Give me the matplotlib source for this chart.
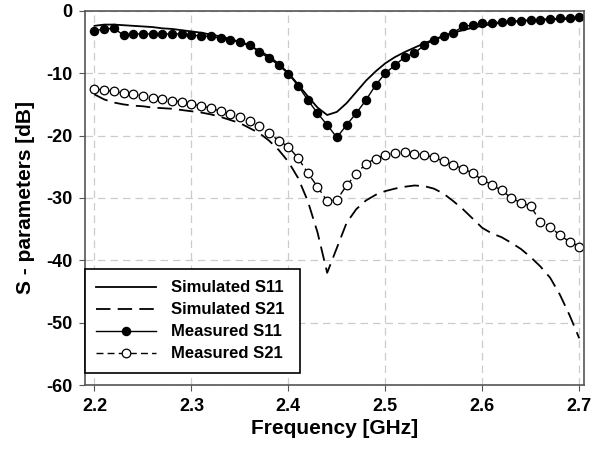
import matplotlib.pyplot as plt
import numpy as np

plt.rcParams['font.family'] = ['Liberation Sans', 'DejaVu Sans']
plt.rcParams['font.weight'] = 'bold'
plt.rcParams['axes.unicode_minus'] = False

# frequency points (GHz)
freq = np.round(np.arange(2.20, 2.7001, 0.01), 2)

sim_s11 = [-2.4, -2.2, -2.2, -2.3, -2.4, -2.5, -2.6, -2.8, -2.9, -3.1,
           -3.3, -3.5, -3.8, -4.1, -4.5, -5.0, -5.6, -6.4, -7.3, -8.5,
           -10.0, -11.8, -13.7, -15.5, -16.7, -16.2, -14.8, -13.0, -11.2, -9.7,
           -8.4, -7.4, -6.6, -5.9, -5.2, -4.6, -4.0, -3.5, -3.1, -2.7,
           -2.4, -2.1, -1.9, -1.8, -1.6, -1.5, -1.4, -1.4, -1.3, -1.3, -1.2]

sim_s21 = [-13.4, -14.2, -14.7, -15.0, -15.2, -15.3, -15.5, -15.6, -15.7, -15.9,
           -16.1, -16.3, -16.6, -17.0, -17.5, -18.0, -18.8, -19.6, -20.8, -22.3,
           -24.2, -26.8, -30.5, -35.5, -42.0, -38.0, -34.0, -31.8, -30.4, -29.5,
           -28.9, -28.5, -28.2, -28.0, -28.1, -28.5, -29.3, -30.5, -31.8, -33.3,
           -34.8, -35.7, -36.3, -37.2, -38.2, -39.5, -41.0, -42.8, -45.5, -48.8, -52.5]

meas_s11 = [-3.2, -2.9, -2.8, -3.9, -3.7, -3.7, -3.7, -3.7, -3.7, -3.7,
            -3.9, -4.0, -4.1, -4.4, -4.7, -5.0, -5.4, -6.6, -7.6, -8.7,
            -10.1, -12.0, -14.3, -16.4, -18.3, -20.3, -18.3, -16.4, -14.3, -11.9,
            -10.0, -8.7, -7.4, -6.8, -5.5, -4.7, -4.1, -3.5, -2.5, -2.3,
            -2.0, -1.9, -1.8, -1.7, -1.6, -1.5, -1.4, -1.3, -1.2, -1.1, -1.0]

meas_s21 = [-12.5, -12.7, -12.9, -13.2, -13.4, -13.6, -14.0, -14.2, -14.4, -14.6,
            -15.0, -15.2, -15.6, -16.1, -16.5, -17.0, -17.7, -18.4, -19.6, -20.8,
            -21.8, -23.6, -26.0, -28.2, -30.5, -30.3, -28.0, -26.1, -24.5, -23.7,
            -23.1, -22.8, -22.7, -22.9, -23.1, -23.5, -24.1, -24.7, -25.3, -26.0,
            -27.1, -27.9, -28.8, -30.0, -30.8, -31.3, -33.9, -34.6, -36.0, -37.0, -37.8]

fig = plt.figure(figsize=(5.93, 4.53), dpi=100)
ax = fig.add_axes([0.143, 0.15, 0.842, 0.826])

ax.plot(freq, sim_s11, color='black', lw=1.3, label='Simulated S11')
ax.plot(freq, sim_s21, color='black', lw=1.3, dashes=(8, 4), label='Simulated S21')
ax.plot(freq, meas_s11, color='black', lw=1.0, marker='o', ms=5.8,
        mfc='black', mec='black', label='Measured S11')
ax.plot(freq, meas_s21, color='black', lw=1.0, dashes=(5, 3), marker='o', ms=6.2,
        mfc='white', mec='black', mew=0.9, label='Measured S21')

ax.set_xlim(2.19, 2.705)
ax.set_ylim(-60, 0)
ax.set_xticks([2.2, 2.3, 2.4, 2.5, 2.6, 2.7])
ax.set_yticks(range(-60, 1, 10))
ax.grid(True, color='#cccccc', ls=(0, (6, 4)), lw=0.9)
ax.set_axisbelow(True)
for s in ax.spines.values():
    s.set_color('#555555')
    s.set_linewidth(1.2)
ax.tick_params(direction='out', length=4, color='#555555', labelsize=13, pad=5)
for lab in ax.get_xticklabels() + ax.get_yticklabels():
    lab.set_fontweight('bold')

ax.set_xlabel('Frequency [GHz]', fontsize=15, fontweight='bold', labelpad=3)
ax.set_ylabel('S - parameters [dB]', fontsize=15, fontweight='bold', labelpad=8)

leg = ax.legend(loc='lower left', bbox_to_anchor=(0.0, 0.032, 0.43, 0.283), mode='expand',
                borderaxespad=0, fancybox=False, framealpha=1, edgecolor='black',
                handlelength=3.6, handletextpad=0.9, labelspacing=0.42, borderpad=0.7,
                prop={'weight': 'bold', 'size': 12})
leg.get_frame().set_linewidth(1.2)

fig.savefig('out.png', dpi=100)
